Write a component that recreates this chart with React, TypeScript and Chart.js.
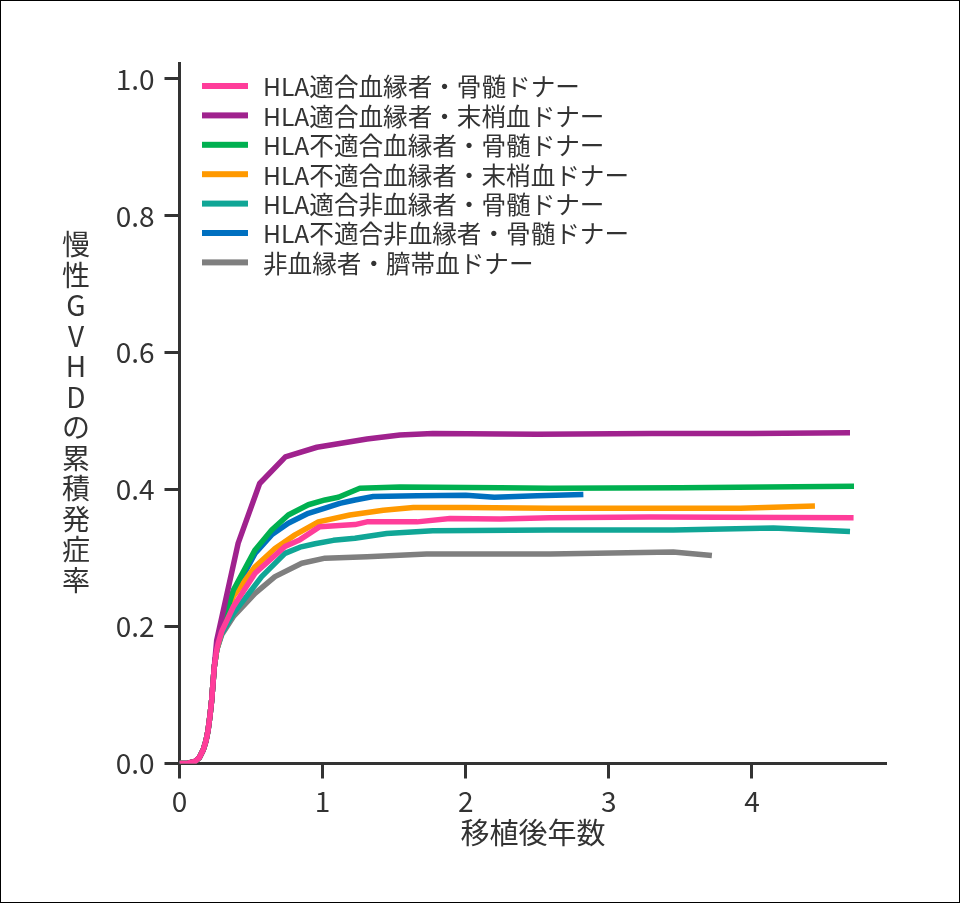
import React, { useEffect, useRef } from "react";
import { Chart, registerables } from "chart.js";

Chart.register(...registerables);

const FONT = '"Noto Sans CJK JP", "Noto Sans CJK SC", sans-serif';
const INK = "#333333";

const seriesLabels = [
  "HLA適合血縁者・骨髄ドナー",
  "HLA適合血縁者・末梢血ドナー",
  "HLA不適合血縁者・骨髄ドナー",
  "HLA不適合血縁者・末梢血ドナー",
  "HLA適合非血縁者・骨髄ドナー",
  "HLA不適合非血縁者・骨髄ドナー",
  "非血縁者・臍帯血ドナー",
];
const seriesColors = ["#FF3D9A", "#A0228E", "#00B050", "#FF9900", "#10A696", "#0070C0", "#7F7F7F"];

const xTickValues = [0, 1, 2, 3, 4];
const yTickValues = [0, 0.2, 0.4, 0.6, 0.8, 1.0];
const xAxisTitle = "移植後年数";
const yAxisTitle = "慢性GVHDの累積発症率";

// shared early rise (all groups nearly identical)
const earlyYears = [0, 0.06, 0.108, 0.14, 0.166, 0.185, 0.2, 0.213, 0.225, 0.243];
const earlyIncidence = [0, 0.0005, 0.003, 0.009, 0.02, 0.033, 0.049, 0.07, 0.093, 0.141];

const pinkYears = [0.26, 0.271, 0.295, 0.376, 0.528, 0.737, 0.842, 0.98, 1.226, 1.31, 1.66, 1.89, 2.24, 2.59, 3.29, 4.71];
const pinkIncidence = [0.166, 0.176, 0.193, 0.229, 0.278, 0.317, 0.327, 0.346, 0.349, 0.353, 0.353, 0.358, 0.357, 0.359, 0.36, 0.359];

const purpleYears = [0.26, 0.41, 0.56, 0.74, 0.96, 1.31, 1.54, 1.77, 2.5, 3.3, 4.0, 4.685];
const purpleIncidence = [0.18, 0.322, 0.409, 0.448, 0.462, 0.474, 0.48, 0.482, 0.481, 0.482, 0.482, 0.483];

const greenYears = [0.26, 0.295, 0.376, 0.528, 0.644, 0.76, 0.9, 1.017, 1.11, 1.26, 1.54, 2.24, 2.59, 3.5, 4.713];
const greenIncidence = [0.166, 0.2, 0.253, 0.312, 0.341, 0.363, 0.378, 0.385, 0.389, 0.402, 0.404, 0.403, 0.402, 0.403, 0.405];

const orangeYears = [0.26, 0.295, 0.376, 0.528, 0.667, 0.807, 0.97, 1.19, 1.424, 1.634, 2.0, 2.59, 3.92, 4.44];
const orangeIncidence = [0.166, 0.195, 0.244, 0.2875, 0.314, 0.334, 0.353, 0.363, 0.37, 0.374, 0.374, 0.373, 0.373, 0.376];

const tealYears = [0.26, 0.295, 0.376, 0.574, 0.737, 0.842, 0.947, 1.075, 1.226, 1.448, 1.77, 2.59, 3.45, 4.15, 4.685];
const tealIncidence = [0.166, 0.19, 0.219, 0.273, 0.307, 0.316, 0.321, 0.326, 0.329, 0.336, 0.34, 0.341, 0.341, 0.344, 0.339];

const blueYears = [0.26, 0.295, 0.376, 0.528, 0.644, 0.76, 0.9, 1.017, 1.12, 1.226, 1.354, 1.66, 2.0, 2.2, 2.5, 2.822];
const blueIncidence = [0.166, 0.198, 0.248, 0.307, 0.334, 0.351, 0.3655, 0.373, 0.38, 0.385, 0.39, 0.391, 0.392, 0.389, 0.391, 0.393];

const grayYears = [0.26, 0.295, 0.376, 0.528, 0.667, 0.854, 1.017, 1.31, 1.727, 2.59, 3.45, 3.72];
const grayIncidence = [0.166, 0.188, 0.2145, 0.2486, 0.273, 0.2925, 0.3, 0.302, 0.306, 0.306, 0.309, 0.304];

const seriesYears = [pinkYears, purpleYears, greenYears, orangeYears, tealYears, blueYears, grayYears];
const seriesIncidence = [pinkIncidence, purpleIncidence, greenIncidence, orangeIncidence, tealIncidence, blueIncidence, grayIncidence];

const X_MAX = 4.94;
const Y_MAX = 1.0226;

const legendPlugin = {
  id: "inlineLegend",
  afterDraw(chart: any) {
    const ctx = chart.ctx;
    const { left, top } = chart.chartArea;
    ctx.save();
    ctx.font = `24.6px ${FONT}`;
    ctx.textBaseline = "middle";
    ctx.textAlign = "left";
    chart.data.datasets.forEach((ds: any, i: number) => {
      const y = top + 22.5 + i * 29.4;
      ctx.fillStyle = ds.borderColor;
      ctx.fillRect(left + 22.5, y - 3, 46, 6);
      ctx.fillStyle = INK;
      ctx.fillText(ds.label, left + 83.5, y + 1);
    });
    ctx.restore();
  },
};

const yTitlePlugin = {
  id: "verticalYTitle",
  afterDraw(chart: any) {
    const ctx = chart.ctx;
    const chars = Array.from(yAxisTitle);
    const pitch = 30.5;
    const cx = 75;
    const cy = (chart.chartArea.top + chart.chartArea.bottom) / 2 - 2;
    const startY = cy - (pitch * (chars.length - 1)) / 2;
    ctx.save();
    ctx.font = `28px ${FONT}`;
    ctx.fillStyle = INK;
    ctx.textAlign = "center";
    ctx.textBaseline = "middle";
    chars.forEach((c, i) => ctx.fillText(c, cx, startY + i * pitch + 1));
    ctx.restore();
  },
};

export default function App() {
  const ref = useRef<HTMLCanvasElement | null>(null);

  useEffect(() => {
    if (!ref.current) return;
    const datasets = seriesLabels.map((label, i) => ({
      label,
      data: [
        ...earlyYears.map((x, j) => ({ x, y: earlyIncidence[j] })),
        ...seriesYears[i].map((x, j) => ({ x, y: seriesIncidence[i][j] })),
      ],
      borderColor: seriesColors[i],
      backgroundColor: seriesColors[i],
      borderWidth: 5.5,
      pointRadius: 0,
      pointHoverRadius: 0,
      tension: 0,
      fill: false,
      borderJoinStyle: "round" as const,
    }));

    const chart = new Chart(ref.current, {
      type: "line",
      data: { datasets },
      options: {
        animation: false,
        responsive: false,
        devicePixelRatio: 1,
        layout: { padding: { top: 62.5, right: 72.5, left: 0, bottom: 0 } },
        plugins: {
          legend: { display: false },
          tooltip: { enabled: false },
          title: { display: false },
        },
        scales: {
          x: {
            type: "linear",
            min: 0,
            max: X_MAX,
            afterFit: (s: any) => {
              s.height = 138.5;
            },
            afterBuildTicks: (s: any) => {
              s.ticks = xTickValues.map((v) => ({ value: v }));
            },
            grid: {
              display: true,
              drawOnChartArea: false,
              drawTicks: true,
              tickLength: 15,
              tickWidth: 3,
              tickColor: INK,
            },
            border: { display: true, width: 3, color: INK },
            ticks: {
              color: INK,
              padding: 6,
              font: { family: FONT, size: 28 },
              callback: (v: any) => String(v),
            },
            title: {
              display: true,
              text: xAxisTitle,
              color: INK,
              font: { family: FONT, size: 29 },
              padding: { top: 0, bottom: 52 },
            },
          },
          y: {
            type: "linear",
            min: 0,
            max: Y_MAX,
            afterFit: (s: any) => {
              s.width = 178.5;
            },
            afterBuildTicks: (s: any) => {
              s.ticks = yTickValues.map((v) => ({ value: v }));
            },
            grid: {
              display: true,
              drawOnChartArea: false,
              drawTicks: true,
              tickLength: 15,
              tickWidth: 3,
              tickColor: INK,
            },
            border: { display: true, width: 3, color: INK },
            ticks: {
              color: INK,
              padding: 10,
              font: { family: FONT, size: 28 },
              callback: (v: any) => Number(v).toFixed(1),
            },
            title: { display: false },
          },
        },
      },
      plugins: [legendPlugin, yTitlePlugin],
    });
    return () => chart.destroy();
  }, []);

  return (
    <div
      style={{
        position: "fixed",
        left: 0,
        top: 0,
        width: 960,
        height: 903,
        boxSizing: "border-box",
        border: "1px solid #000",
        background: "#fff",
      }}
    >
      <canvas ref={ref} width={958} height={901} style={{ display: "block", width: 958, height: 901 }} />
    </div>
  );
}
